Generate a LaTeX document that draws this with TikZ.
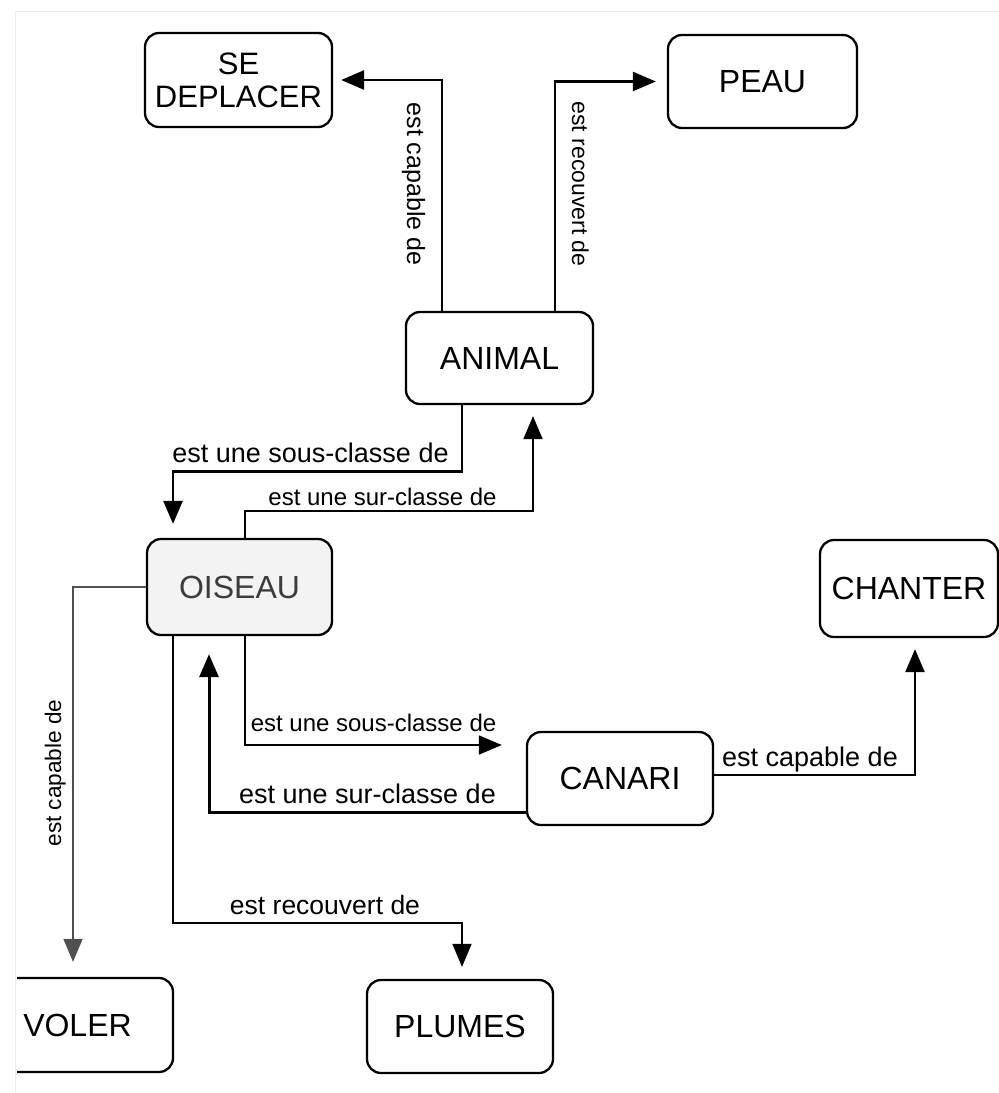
\documentclass[tikz,border=0pt]{standalone}
\usepackage{fontspec}
\setmainfont{Liberation Sans}
\usetikzlibrary{arrows.meta}
\definecolor{faint}{RGB}{238,238,230}
\definecolor{oisfill}{RGB}{243,243,243}
\definecolor{oistext}{RGB}{60,60,60}
\definecolor{thinline}{RGB}{80,80,80}
\begin{document}
\begin{tikzpicture}[x=1pt,y=-1pt,
  box/.style={draw=black, line width=2.3pt, rounded corners=14pt, inner sep=0pt,
    align=center, font=\fontsize{32}{33}\selectfont, text=black},
  conn/.style={line width=2.2pt, -{Triangle[length=23pt,width=19pt]}},
  lbl/.style={inner sep=0pt, anchor=base}]
\fill[white] (0,0) rectangle (999,1093);
\useasboundingbox (0,0) rectangle (999,1093);
\draw[faint, line width=1pt] (15,1093) -- (15,11) -- (999,11);

% boxes
\node[box, minimum width=187pt, minimum height=94pt, font=\fontsize{31}{33}\selectfont] (sed) at (238.5,80) {SE\\DEPLACER};
\node[box, minimum width=189pt, minimum height=93pt] (peau) at (762.5,81.5) {PEAU};
\node[box, minimum width=187pt, minimum height=92pt] (animal) at (499.5,358) {ANIMAL};
\node[box, fill=oisfill, text=oistext, minimum width=185pt, minimum height=96pt] (oiseau) at (239.5,587) {OISEAU};
\node[box, minimum width=186pt, minimum height=93pt] (canari) at (620,778.5) {CANARI};
\node[box, minimum width=178pt, minimum height=97pt] (chanter) at (909,588.5) {CHANTER};
\begin{scope}
\clip (17,0) rectangle (999,1093);
\node[box, minimum width=191pt, minimum height=94pt] (voler) at (77.5,1025) {VOLER};
\end{scope}
\node[box, minimum width=186pt, minimum height=93pt] (plumes) at (460,1026.5) {PLUMES};

% connectors
\draw[conn, line width=2.6pt, shorten >=8pt] ([xshift=-57.5pt]animal.north) |- (sed.east);
\draw[conn, line width=2.4pt, shorten >=11pt] ([xshift=55.5pt]animal.north) |- (peau.west);
\draw[conn, line width=2.8pt, shorten >=14pt] ([xshift=-37.5pt]animal.south) -- ++(0,66) -| ([xshift=-66.5pt]oiseau.north);
\draw[conn, line width=1.8pt, shorten >=11pt] ([xshift=5.5pt]oiseau.north) -- ++(0,-27) -| ([xshift=33.5pt]animal.south);
\draw[conn, color=thinline, line width=1.7pt, shorten >=15pt] (oiseau.west) -| ([xshift=-4.5pt]voler.north);
\draw[conn, line width=1.8pt, shorten >=12pt] ([xshift=-66.5pt]oiseau.south) -- ++(0,287) -| ([xshift=2pt]plumes.north);
\draw[conn, line width=1.8pt, shorten >=24pt] ([xshift=5.5pt]oiseau.south) |- ([yshift=33.5pt]canari.west);
\draw[conn, line width=3pt, shorten >=18pt] ([yshift=-33.5pt]canari.west) -| ([xshift=-30.5pt]oiseau.south);
\draw[conn, line width=2.6pt, shorten >=11pt] ([yshift=3.5pt]canari.east) -| ([xshift=6pt]chanter.south);

% labels
\node[lbl, font=\fontsize{25}{25}\selectfont, rotate=-90] (l1) at (407,184) {est capable de};
\node[lbl, font=\fontsize{23}{23}\selectfont, rotate=-90] (l2) at (572,184) {est recouvert de};
\node[lbl, font=\fontsize{27}{27}\selectfont] (l3) at (310.5,462) {est une sous-classe de};
\node[lbl, font=\fontsize{24}{24}\selectfont] (l4) at (382.5,505) {est une sur-classe de};
\node[lbl, font=\fontsize{22.6}{23}\selectfont, rotate=90] (l5) at (61,773) {est capable de};
\node[lbl, font=\fontsize{24}{24}\selectfont] (l7) at (373.5,731) {est une sous-classe de};
\node[lbl, font=\fontsize{27}{27}\selectfont] (l8) at (367.5,803) {est une sur-classe de};
\node[lbl, font=\fontsize{26.5}{27}\selectfont] (l6) at (325,914) {est recouvert de};
\node[lbl, font=\fontsize{27}{27}\selectfont] (l9) at (810,766) {est capable de};
\end{tikzpicture}
\end{document}
